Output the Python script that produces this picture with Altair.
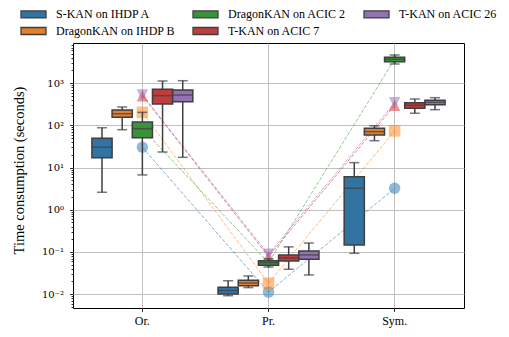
import altair as alt
import pandas as pd

cats = ["Or.", "Pr.", "Sym."]
series = ["S-KAN on IHDP A", "DragonKAN on IHDP B", "DragonKAN on ACIC 2",
          "T-KAN on ACIC 7", "T-KAN on ACIC 26"]

box_colors = ["#3274a1", "#e1812c", "#3a923a", "#c03d3e", "#9372b2"]
mark_colors = ["#1f77b4", "#ff7f0e", "#2ca02c", "#d62728", "#9467bd"]
shapes = ["circle", "square", "M0,-1L0.6,0L0,1L-0.6,0Z",
          "M0,-1L1,1L-1,1Z", "M0,1L1,-1L-1,-1Z"]

# box statistics per series, for Or. / Pr. / Sym.
whisk_lo = [[2.6, 0.0092, 0.093], [79, 0.0143, 43.4], [6.7, 0.044, 2850],
            [23.4, 0.0389, 194], [17.5, 0.0285, 236]]
q1 = [[17.2, 0.0101, 0.147], [156, 0.0159, 59], [51, 0.0484, 3235],
      [321, 0.0612, 254], [365, 0.067, 310]]
med = [[30.3, 0.0122, 3.23], [189, 0.0184, 71], [83.5, 0.0557, 3685],
       [506, 0.072, 300], [525, 0.085, 353]]
q3 = [[49.5, 0.0146, 6.1], [232, 0.0213, 85], [120, 0.0622, 4110],
      [717, 0.085, 345], [690, 0.1056, 393]]
whisk_hi = [[88, 0.0208, 13.1], [273, 0.027, 98], [204, 0.069, 4660],
            [1128, 0.132, 422], [1146, 0.163, 454]]
marker = [[30.3, 0.0112, 3.23], [204, 0.0182, 74], [83.5, 0.0557, 3685],
          [506, 0.078, 300], [525, 0.088, 345]]

y_major = [0.01, 0.1, 1, 10, 100, 1000]
y_domain = [0.0047, 8970]

rows = []
for si, s in enumerate(series):
    for ci, c in enumerate(cats):
        rows.append(dict(cat=c, series=s, idx=si, lo=whisk_lo[si][ci], q1=q1[si][ci],
                         med=med[si][ci], q3=q3[si][ci], hi=whisk_hi[si][ci],
                         mk=marker[si][ci]))
df = pd.DataFrame(rows)

y_ticks = []
for m in y_major + [0.001]:
    y_ticks.append(m)
    for k in range(2, 10):
        v = m * k
        if y_domain[0] <= v <= y_domain[1]:
            y_ticks.append(v)
y_ticks = sorted(t for t in y_ticks if y_domain[0] <= t <= y_domain[1])

is_major = "abs(log(datum.value)/LN10 - round(log(datum.value)/LN10)) < 0.001"
label_expr = (is_major + " ? '10' + (round(log(datum.value)/LN10) < 0 ? '\u207b' : '') + "
              "['\u2070','\u00b9','\u00b2','\u00b3','\u2074'][abs(round(log(datum.value)/LN10))] : ''")

yscale = alt.Scale(type="log", domain=y_domain, nice=False)
y_axis = alt.Axis(
    title="Time consumption (seconds)", titleFont="Liberation Serif", titleFontSize=14.5,
    titleFontWeight="normal", titleColor="black", titleAngle=270, titleX=-54, titleY=127,
    titleAlign="center", titleBaseline="middle",
    values=y_ticks, labelExpr=label_expr, labelFont="DejaVu Serif", labelFontSize=10,
    labelColor="black", labelPadding=6, labelOverlap=False, labelFlush=False,
    tickSize={"condition": {"test": is_major, "value": 3.5}, "value": 2},
    tickColor="black", tickWidth=0.8,
    grid=True, gridColor="#c0c0c0", gridWidth=1,
    gridOpacity={"condition": {"test": is_major, "value": 1}, "value": 0},
    domain=False)

xscale = alt.Scale(domain=cats, paddingInner=0, paddingOuter=0.05)
x_axis = alt.Axis(title=None, labelAngle=0, labelFont="Liberation Serif", labelFontSize=12,
                  labelColor="black", tickColor="black", tickSize=3.5, tickWidth=0.8,
                  labelPadding=4, grid=True, gridColor="#c0c0c0", gridWidth=1,
                  bandPosition=0.5, domain=False)
X = alt.X("cat:N", scale=xscale, axis=x_axis, sort=cats)
XO = alt.XOffset("series:N", scale=alt.Scale(domain=series, paddingInner=0, paddingOuter=0.625),
                 sort=series)

base = alt.Chart(df)

# marker/line scales use the numeric series index so their legends never merge with the box legend
lines = base.mark_line(strokeDash=[3.7, 1.6], strokeWidth=1, opacity=0.55).encode(
    x=X, y=alt.Y("mk:Q", scale=yscale, axis=y_axis),
    stroke=alt.Stroke("idx:N", scale=alt.Scale(domain=list(range(5)), range=mark_colors), legend=None),
    detail="series:N")

points = base.mark_point(filled=True, opacity=0.5, strokeWidth=0).encode(
    x=X, y=alt.Y("mk:Q", scale=yscale, axis=y_axis),
    color=alt.Color("idx:N", scale=alt.Scale(domain=list(range(5)), range=mark_colors), legend=None),
    shape=alt.Shape("idx:N", scale=alt.Scale(domain=list(range(5)), range=shapes), legend=None),
    size=alt.Size("idx:N", scale=alt.Scale(domain=list(range(5)), range=[132, 132, 256, 150, 150]),
                  legend=None))

whiskers = base.mark_rule(color="#3f3f3f", strokeWidth=1.5).encode(
    x=X, xOffset=XO, y=alt.Y("lo:Q", scale=yscale, axis=y_axis), y2="hi:Q")

caps_lo = base.mark_tick(color="#3f3f3f", size=10, thickness=1.5).encode(
    x=X, xOffset=XO, y=alt.Y("lo:Q", scale=yscale, axis=y_axis))
caps_hi = base.mark_tick(color="#3f3f3f", size=10, thickness=1.5).encode(
    x=X, xOffset=XO, y=alt.Y("hi:Q", scale=yscale, axis=y_axis))

legend = alt.Legend(
    title=None, orient="none", legendX=-53, legendY=-35, columns=3, padding=0,
    symbolType="M-1,-0.7L4,-0.7L4,0.7L-1,0.7Z", symbolSize=100,
    symbolStrokeColor="#3f3f3f", symbolStrokeWidth=1.3, symbolOpacity=1,
    labelFont="Liberation Serif", labelFontSize=12, labelColor="black",
    labelOffset=24, columnPadding=15, rowPadding=3, labelLimit=0)

boxes = base.mark_bar(stroke="#3f3f3f", strokeWidth=1.5, opacity=1).encode(
    x=X, xOffset=XO, y=alt.Y("q1:Q", scale=yscale, axis=y_axis), y2="q3:Q",
    fill=alt.Fill("series:N", scale=alt.Scale(domain=series, range=box_colors), legend=legend))

medians = base.mark_tick(color="#3f3f3f", size=20, thickness=1.5).encode(
    x=X, xOffset=XO, y=alt.Y("med:Q", scale=yscale, axis=y_axis))

chart = alt.layer(lines, points, whiskers, caps_lo, caps_hi, boxes, medians).properties(
    width=391, height=265,
    autosize=alt.AutoSizeParams(type="none"),
    padding={"left": 65, "top": 35, "right": 37, "bottom": 21},
).configure_view(stroke="black", strokeWidth=1)

chart.save("out.html", embed_options={"renderer": "svg", "actions": False})
